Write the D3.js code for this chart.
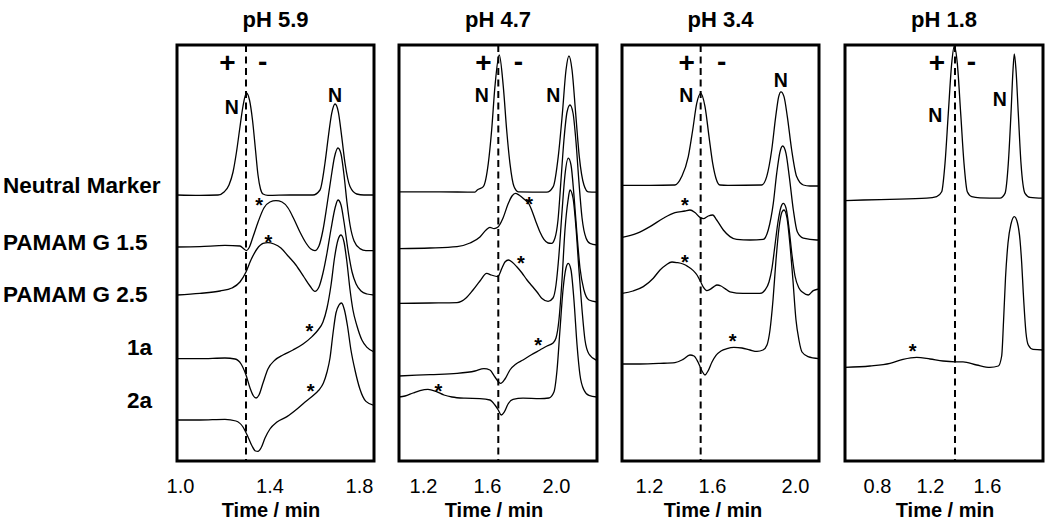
<!DOCTYPE html>
<html><head><meta charset="utf-8">
<script src="https://cdn.jsdelivr.net/npm/d3@7"></script>
<style>
body{margin:0;background:#fff}
svg{display:block}
text{font-family:"Liberation Sans",Arial,Helvetica,sans-serif;fill:#000}
</style>
</head><body>
<svg id="c" width="1050" height="522"></svg>
<script>
// ---------------- DATA ----------------
const panelTitles = ["pH 5.9", "pH 4.7", "pH 3.4", "pH 1.8"];
const sampleNames = ["Neutral Marker", "PAMAM G 1.5", "PAMAM G 2.5", "1a", "2a"];
const xAxisTitle = "Time / min";

const ticks59 = [1.0, 1.4, 1.8];
const ticks47 = [1.2, 1.6, 2.0];
const ticks34 = [1.2, 1.6, 2.0];
const ticks18 = [0.8, 1.2, 1.6];

// dashed marker (neutral marker migration time), min
const marker59 = 1.295, marker47 = 1.6655, marker34 = 1.528, marker18 = 1.3754;

// traces: [time (min), stacked signal (a.u.)]
const nm59 = [[0.987,66.5],[1.089,66.4],[1.170,66.5],[1.197,67.25],[1.219,69.0],[1.237,72.25],[1.2525,77.25],[1.268,83.5],[1.2816,88.75],[1.297,92.0],[1.3106,90.25],[1.324,85.25],[1.3374,77.75],[1.3486,71.5],[1.3598,68.0],[1.371,66.75],[1.393,66.4],[1.4916,66.5],[1.594,66.5],[1.6257,67.75],[1.648,74.5],[1.663,81.1],[1.678,86.9],[1.693,89.25],[1.7075,87.3],[1.7227,81.1],[1.7374,74.5],[1.7598,68.6],[1.7897,66.75],[1.822,66.5],[1.867,66.5]];
const g15_59 = [[0.987,53.5],[1.089,53.6],[1.201,53.9],[1.268,53.75],[1.286,53.0],[1.297,52.6],[1.308,53.25],[1.326,56.0],[1.349,59.75],[1.375,63.25],[1.402,64.75],[1.429,65.1],[1.456,64.75],[1.483,63.25],[1.509,60.5],[1.536,57.25],[1.563,54.5],[1.585,53.0],[1.603,52.6],[1.621,53.75],[1.639,57.75],[1.657,64.0],[1.675,70.75],[1.6905,76.0],[1.706,78.25],[1.7196,76.75],[1.733,71.5],[1.746,64.75],[1.760,59.0],[1.778,55.0],[1.804,53.1],[1.831,52.6],[1.867,52.6]];
const g25_59 = [[0.987,41.5],[1.089,41.9],[1.179,42.5],[1.232,43.25],[1.268,44.75],[1.295,47.25],[1.317,50.25],[1.344,53.0],[1.371,54.4],[1.393,54.6],[1.420,54.25],[1.451,53.25],[1.483,51.25],[1.518,49.0],[1.554,46.0],[1.581,43.75],[1.603,42.4],[1.621,43.5],[1.639,47.0],[1.657,52.0],[1.675,58.0],[1.693,63.25],[1.706,65.25],[1.7196,64.0],[1.733,59.75],[1.751,52.75],[1.769,47.25],[1.787,44.25],[1.809,42.5],[1.836,41.75],[1.867,41.5]];
const a1_59 = [[0.987,25.6],[1.089,25.6],[1.201,25.75],[1.246,25.5],[1.273,24.25],[1.295,21.5],[1.313,18.25],[1.3285,16.25],[1.340,15.75],[1.353,16.5],[1.371,19.5],[1.393,23.0],[1.4246,25.25],[1.460,26.5],[1.505,27.75],[1.550,29.25],[1.590,31.1],[1.617,32.75],[1.639,34.75],[1.657,38.25],[1.675,44.0],[1.6905,50.75],[1.706,55.25],[1.7196,56.5],[1.733,54.75],[1.746,49.75],[1.760,42.75],[1.773,37.75],[1.791,33.75],[1.813,30.25],[1.836,28.4],[1.867,27.25]];
const a2_59 = [[0.987,10.25],[1.089,10.25],[1.201,10.4],[1.250,10.0],[1.2816,8.5],[1.304,6.0],[1.322,3.75],[1.3374,2.5],[1.3486,2.4],[1.362,3.25],[1.380,5.75],[1.402,8.0],[1.4335,9.75],[1.478,11.1],[1.523,13.0],[1.559,14.75],[1.590,16.1],[1.608,17.0],[1.621,17.75],[1.641,19.5],[1.657,22.25],[1.6704,25.75],[1.684,32.0],[1.697,37.0],[1.7106,39.0],[1.722,39.5],[1.735,37.75],[1.7486,33.75],[1.764,27.75],[1.782,22.75],[1.804,18.0],[1.831,14.9],[1.867,13.9]];

const nm47 = [[1.05,67.3],[1.306,67.3],[1.525,67.2],[1.539,67.75],[1.577,68.6],[1.6075,74.4],[1.627,82.75],[1.646,93.6],[1.671,101.5],[1.6945,93.6],[1.714,82.75],[1.733,74.4],[1.7565,68.6],[1.7815,67.3],[1.946,67.2],[1.984,68.6],[2.013,76.1],[2.037,86.9],[2.058,97.75],[2.075,101.25],[2.093,97.75],[2.114,86.9],[2.135,76.1],[2.162,69],[2.187,67.3],[2.238,67.2]];
const g15_47 = [[1.05,53.1],[1.244,53.25],[1.4125,53.6],[1.494,54.5],[1.556,56],[1.594,57.75],[1.617,58.4],[1.641,58.1],[1.664,58.5],[1.693,60.75],[1.722,64.25],[1.745,66.25],[1.765,66.9],[1.7855,66.5],[1.8145,65.5],[1.8435,64.25],[1.861,62.5],[1.884,59.75],[1.907,57.25],[1.930,55.4],[1.954,54.5],[1.974,54.4],[1.994,55.75],[2.0116,60.25],[2.029,70.25],[2.046,80.25],[2.064,87.25],[2.081,89],[2.0986,87],[2.116,79.75],[2.133,69.75],[2.151,60.75],[2.174,55.75],[2.197,54.4],[2.238,54]];
const g25_47 = [[1.05,39.4],[1.244,39.5],[1.4125,39.6],[1.469,40.75],[1.5125,42.75],[1.556,45],[1.598,46.9],[1.625,46.5],[1.662,46.1],[1.687,48.25],[1.704,49.75],[1.7246,50.25],[1.745,49.75],[1.774,48.5],[1.803,47],[1.832,45.25],[1.861,43.75],[1.890,42.25],[1.919,40.6],[1.954,39.9],[1.9826,40.75],[2.000,44],[2.017,51.5],[2.0348,62.25],[2.052,71.5],[2.0713,75.7],[2.087,74],[2.104,66.5],[2.122,56.5],[2.139,48.25],[2.162,42.75],[2.191,40.25],[2.238,39.75]];
const a1_47 = [[1.05,21.25],[1.244,21.6],[1.4125,21.9],[1.525,22.5],[1.581,23.1],[1.617,22.75],[1.646,21],[1.679,19.4],[1.704,20.5],[1.733,22.75],[1.768,24.25],[1.8087,25.25],[1.855,26.5],[1.907,27.75],[1.948,28.75],[1.9826,29.5],[2.000,30.75],[2.017,35.25],[2.0348,45.25],[2.052,57.75],[2.070,65.25],[2.081,67.75],[2.0986,65.75],[2.116,58.25],[2.133,47.75],[2.151,37.75],[2.168,30.25],[2.191,26.75],[2.238,25.1]];
const a2_47 = [[1.05,16],[1.0875,16.25],[1.1375,17],[1.181,17.6],[1.231,17.9],[1.281,17.4],[1.331,16.5],[1.381,16],[1.4625,15.7],[1.556,15.6],[1.617,15.25],[1.646,14],[1.665,12.75],[1.6826,11.5],[1.7,12.25],[1.722,14.25],[1.751,15.4],[1.8087,15.7],[1.907,15.6],[1.959,15.75],[1.988,17.25],[2.006,22.75],[2.023,32.75],[2.0406,42.75],[2.058,48.25],[2.0713,49.4],[2.087,47.75],[2.104,40.25],[2.122,29],[2.139,21.5],[2.162,17.75],[2.191,16.4],[2.238,16]];

const nm34 = [[1.0286,68.9],[1.2063,68.9],[1.365,69],[1.4076,71.1],[1.4495,76.1],[1.4775,82.75],[1.503,89.4],[1.528,91.9],[1.5556,88.6],[1.581,81.1],[1.6034,74.4],[1.619,70.7],[1.6386,69],[1.677,68.9],[1.8395,69],[1.8636,71.1],[1.8877,77.75],[1.907,86.1],[1.9214,91.1],[1.9325,92.3],[1.947,91.1],[1.963,86.1],[1.984,77.75],[2.008,71.1],[2.040,69],[2.072,68.75],[2.1157,68.75]];
const g15_34 = [[1.0286,55.9],[1.122,56.9],[1.2063,58.6],[1.291,60.7],[1.365,62.1],[1.4286,62.5],[1.460,62.75],[1.492,62.1],[1.5238,60.9],[1.5448,60.6],[1.5765,61.25],[1.6034,61.5],[1.6227,60.25],[1.6545,57.75],[1.6867,56.1],[1.719,55.4],[1.783,55.25],[1.847,55.4],[1.871,57.75],[1.8954,64.4],[1.9118,71.9],[1.9277,77.3],[1.9407,78.75],[1.9566,76.9],[1.9725,71.1],[1.992,62.75],[2.011,57.3],[2.040,55.7],[2.1046,55.25],[2.1157,55.25]];
const g25_34 = [[1.0286,41.9],[1.098,42.5],[1.1638,43.6],[1.2273,45.7],[1.270,47.75],[1.308,49],[1.346,49.75],[1.3778,49.6],[1.416,49.25],[1.4476,48.6],[1.4813,47.6],[1.5048,46.5],[1.528,44.8],[1.546,43.4],[1.5663,42.6],[1.5873,42.9],[1.6096,43.6],[1.624,44],[1.6434,43.75],[1.6627,43.1],[1.6867,42.3],[1.749,41.9],[1.831,41.9],[1.8554,42.75],[1.8747,44.75],[1.8892,48.25],[1.9036,54],[1.918,59.75],[1.9325,63.5],[1.9436,64.4],[1.9566,63.25],[1.971,58.25],[1.9855,51.5],[2.000,46.25],[2.019,43.25],[2.0386,42.1],[2.064,41.5],[2.088,42.6],[2.1157,43]];
const a1_34 = [[1.0286,24.25],[1.1429,24.25],[1.270,24.4],[1.365,24.6],[1.416,25.4],[1.460,26.5],[1.4857,26.25],[1.511,24.75],[1.5365,22.5],[1.5556,21.5],[1.5746,22.5],[1.600,24.75],[1.6193,26.4],[1.6434,27.5],[1.6723,28.1],[1.706,28.4],[1.7446,28.25],[1.783,27.75],[1.8169,27.4],[1.8458,27.75],[1.865,29],[1.8795,32.75],[1.894,40.25],[1.9084,50.25],[1.9229,58.25],[1.9373,62.25],[1.947,62.75],[1.9614,60.75],[1.9759,54],[1.990,45.25],[2.0048,35.25],[2.019,30.25],[2.0337,27.25],[2.0627,26.1],[2.1157,25.6]];

const nm18 = [[0.5585,65.1],[0.6966,65.25],[0.8981,65.4],[1.175,65.7],[1.247,66.1],[1.282,67.3],[1.3053,74.4],[1.3284,86.9],[1.3523,99.4],[1.3705,103.75],[1.3916,99.4],[1.4154,86.9],[1.4386,74.4],[1.4618,67.3],[1.4926,66.1],[1.551,65.8],[1.6912,65.7],[1.7263,66.9],[1.7495,74.4],[1.7684,86.9],[1.7825,97.75],[1.7916,101.75],[1.8035,97.75],[1.8196,86.9],[1.8386,74.4],[1.8667,66.9],[1.9018,65.9],[1.993,65.7]];
const a1_18 = [[0.5585,23.4],[0.7472,23.75],[0.8981,24.4],[0.9962,25.4],[1.0996,25.9],[1.200,25.5],[1.2912,25],[1.3754,24.8],[1.4316,24.8],[1.5277,24],[1.621,23.4],[1.6793,23.75],[1.703,26.25],[1.7158,34.75],[1.7298,45.75],[1.7474,54.5],[1.7684,59.25],[1.7916,61.1],[1.814,59.5],[1.8316,55.25],[1.8435,49.5],[1.8547,42],[1.8737,32],[1.8898,29],[1.923,27.9],[1.993,27.75]];

// annotation anchors [time, signal]
const stars59 = [[1.354,65.25],[1.395,55.9],[1.578,33.6],[1.584,18.75]];
const stars47 = [[1.845,65.4],[1.797,50.7],[1.897,30.1],[1.296,18.75]];
const stars34 = [[1.4286,65.25],[1.4286,50.8],[1.70,31.25]];
const stars18 = [[1.069,28.75]];
const nLabels59 = [[1.231,88.6],[1.693,91.5]];
const nLabels47 = [[1.567,91.5],[1.984,91.5]];
const nLabels34 = [[1.437,91.5],[1.9316,95.25]];
const nLabels18 = [[1.237,86.6],[1.689,90.4]];
const signs59 = [["+",1.212,99.8],["-",1.369,99.6]];
const signs47 = [["+",1.577,99.8],["-",1.7826,99.6]];
const signs34 = [["+",1.439,99.8],["-",1.647,99.6]];
const signs18 = [["+",1.249,99.8],["-",1.491,99.6]];

// ---------------- LAYOUT ----------------
const frameTop = 45, frameBottom = 461;
const panels = [
  {title: panelTitles[0], ticks: ticks59, domain: [1.0, 1.8], range: [180, 359], x0: 177, x1: 374, xLab: 271,
   marker: marker59, traces: [nm59, g15_59, g25_59, a1_59, a2_59], stars: stars59, ns: nLabels59, signs: signs59},
  {title: panelTitles[1], ticks: ticks47, domain: ticks47, range: [423, 487, 556], x0: 399, x1: 597, xLab: 494,
   marker: marker47, traces: [nm47, g15_47, g25_47, a1_47, a2_47], stars: stars47, ns: nLabels47, signs: signs47},
  {title: panelTitles[2], ticks: ticks34, domain: ticks34, range: [649, 712, 795], x0: 622, x1: 819, xLab: 713,
   marker: marker34, traces: [nm34, g15_34, g25_34, a1_34], stars: stars34, ns: nLabels34, signs: signs34},
  {title: panelTitles[3], ticks: ticks18, domain: ticks18, range: [877, 930, 987], x0: 845, x1: 1043, xLab: 945,
   marker: marker18, traces: [nm18, a1_18], stars: stars18, ns: nLabels18, signs: signs18}
];
const sampleLabelPos = [
  {x: 3, y: 193, anchor: "start"},
  {x: 3, y: 250, anchor: "start"},
  {x: 3, y: 301.5, anchor: "start"},
  {x: 152, y: 355, anchor: "end"},
  {x: 152, y: 408, anchor: "end"}
];

// ---------------- DRAW ----------------
const svg = d3.select("#c");
const FONT = '"Liberation Sans",Arial,Helvetica,sans-serif';
const y = d3.scaleLinear().domain([0, 104]).range([frameBottom, frameTop]);
const defs = svg.append("defs");

panels.forEach((p, i) => {
  const x = d3.scaleLinear().domain(p.domain).range(p.range);
  const g = svg.append("g");
  defs.append("clipPath").attr("id", "clip" + i)
    .append("rect").attr("x", p.x0).attr("y", frameTop).attr("width", p.x1 - p.x0).attr("height", frameBottom - frameTop);

  const line = d3.line().x(d => x(d[0])).y(d => y(d[1])).curve(d3.curveMonotoneX);
  const plot = g.append("g").attr("clip-path", `url(#clip${i})`);
  plot.selectAll("path.trace").data(p.traces).join("path")
    .attr("class", "trace").attr("d", line)
    .attr("fill", "none").attr("stroke", "#000").attr("stroke-width", 1.3).attr("stroke-linejoin", "round");

  plot.append("line")
    .attr("x1", x(p.marker)).attr("x2", x(p.marker))
    .attr("y1", frameTop).attr("y2", frameBottom)
    .attr("stroke", "#000").attr("stroke-width", 2).attr("stroke-dasharray", "7,4.5");

  g.append("rect").attr("x", p.x0).attr("y", frameTop).attr("width", p.x1 - p.x0).attr("height", frameBottom - frameTop)
    .attr("fill", "none").attr("stroke", "#000").attr("stroke-width", 3);

  const ax = g.append("g").attr("transform", `translate(0,${frameBottom})`)
    .call(d3.axisBottom(x).tickValues(p.ticks).tickSize(0).tickPadding(17.5).tickFormat(d3.format(".1f")));
  ax.select(".domain").remove();
  ax.attr("font-family", FONT).attr("font-size", 20);
  ax.selectAll("text").attr("fill", "#000");

  g.append("text").attr("x", (p.x0 + p.x1) / 2).attr("y", 27).attr("text-anchor", "middle")
    .attr("font-weight", "bold").attr("font-size", 22).text(p.title);
  g.append("text").attr("x", p.xLab).attr("y", 516.5).attr("text-anchor", "middle")
    .attr("font-weight", "bold").attr("font-size", 20).text(xAxisTitle);

  g.selectAll("text.star").data(p.stars).join("text").attr("class", "star")
    .attr("x", d => x(d[0])).attr("y", d => y(d[1]) + 11.5).attr("text-anchor", "middle")
    .attr("font-weight", "bold").attr("font-size", 20).text("*");
  g.selectAll("text.nlab").data(p.ns).join("text").attr("class", "nlab")
    .attr("x", d => x(d[0])).attr("y", d => y(d[1]) + 7).attr("text-anchor", "middle")
    .attr("font-weight", "bold").attr("font-size", 19.5).text("N");
  g.selectAll("text.sign").data(p.signs).join("text").attr("class", "sign")
    .attr("x", d => x(d[1])).attr("y", d => y(d[2]) + (d[0] === "+" ? 10 : 8.5))
    .attr("text-anchor", "middle").attr("font-weight", "bold").attr("font-size", 28).text(d => d[0]);
});

svg.selectAll("text.sample").data(sampleNames).join("text").attr("class", "sample")
  .attr("x", (d, i) => sampleLabelPos[i].x).attr("y", (d, i) => sampleLabelPos[i].y)
  .attr("text-anchor", (d, i) => sampleLabelPos[i].anchor)
  .attr("font-weight", "bold").attr("font-size", 22.5).text(d => d);
</script>
</body></html>
